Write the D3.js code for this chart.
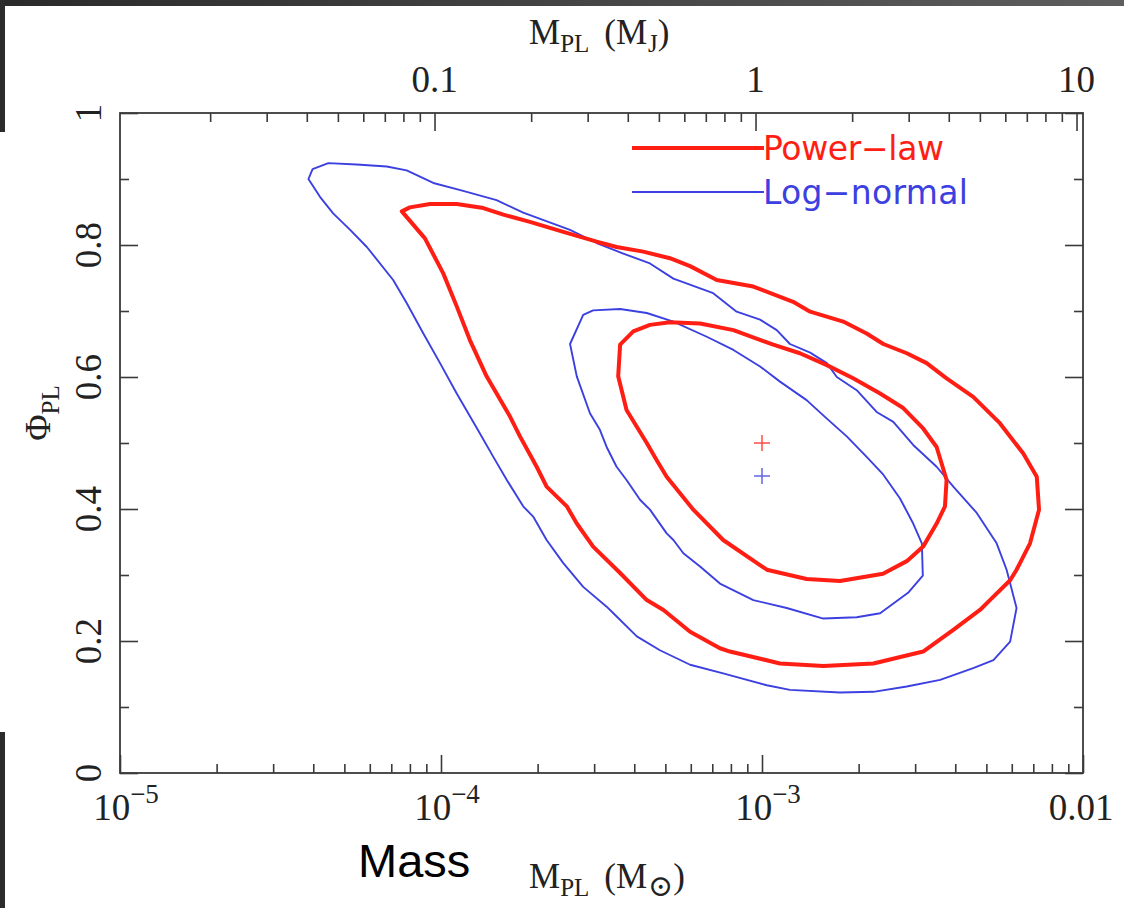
<!DOCTYPE html>
<html>
<head>
<meta charset="utf-8">
<script src="https://cdn.jsdelivr.net/npm/d3@7"></script>
<style>
  html, body { margin: 0; padding: 0; background: #fff; }
  svg { display: block; }
</style>
</head>
<body>
<svg id="chart" width="1124" height="908"></svg>
<script>
// ---- Data: [log10(M_PL / M_sun), Phi_PL] ----
const powerLawInner = [
  [-3.442,0.649],[-3.401,0.669],[-3.349,0.679],[-3.287,0.683],[-3.193,0.681],[-3.089,0.671],
  [-2.965,0.649],[-2.882,0.636],[-2.798,0.618],[-2.716,0.598],[-2.632,0.575],[-2.560,0.553],
  [-2.498,0.522],[-2.456,0.494],[-2.425,0.444],[-2.430,0.404],[-2.456,0.378],[-2.498,0.343],
  [-2.549,0.321],[-2.623,0.302],[-2.757,0.291],[-2.861,0.294],[-2.985,0.308],[-3.121,0.353],
  [-3.214,0.399],[-3.297,0.449],[-3.328,0.474],[-3.359,0.500],[-3.422,0.550],[-3.448,0.601]
];
const powerLawOuter = [
  [-4.122,0.851],[-4.097,0.857],[-4.034,0.862],[-3.951,0.862],[-3.868,0.856],[-3.806,0.846],
  [-3.723,0.835],[-3.619,0.820],[-3.515,0.805],[-3.453,0.797],[-3.370,0.790],[-3.287,0.780],
  [-3.224,0.768],[-3.141,0.747],[-3.027,0.737],[-2.903,0.714],[-2.850,0.699],[-2.747,0.684],
  [-2.674,0.666],[-2.622,0.650],[-2.549,0.636],[-2.487,0.621],[-2.425,0.598],[-2.342,0.570],
  [-2.259,0.530],[-2.186,0.484],[-2.144,0.449],[-2.137,0.399],[-2.165,0.348],[-2.207,0.308],
  [-2.227,0.292],[-2.290,0.262],[-2.321,0.247],[-2.404,0.217],[-2.498,0.184],[-2.653,0.166],
  [-2.809,0.162],[-2.944,0.166],[-3.100,0.184],[-3.131,0.189],[-3.224,0.214],[-3.307,0.247],
  [-3.359,0.262],[-3.442,0.303],[-3.526,0.343],[-3.577,0.378],[-3.608,0.404],[-3.671,0.434],
  [-3.702,0.464],[-3.754,0.510],[-3.785,0.540],[-3.858,0.601],[-3.910,0.656],[-3.951,0.707],
  [-3.993,0.757],[-4.050,0.810]
];
const logNormalInner = [
  [-3.598,0.650],[-3.557,0.694],[-3.526,0.701],[-3.442,0.703],[-3.359,0.697],[-3.276,0.684],
  [-3.172,0.661],[-3.089,0.641],[-3.006,0.616],[-2.944,0.593],[-2.861,0.565],[-2.798,0.537],
  [-2.736,0.510],[-2.674,0.479],[-2.622,0.452],[-2.570,0.416],[-2.529,0.378],[-2.502,0.348],
  [-2.499,0.299],[-2.545,0.273],[-2.632,0.242],[-2.705,0.236],[-2.809,0.234],[-2.923,0.250],
  [-3.027,0.262],[-3.131,0.287],[-3.193,0.313],[-3.245,0.333],[-3.276,0.353],[-3.297,0.363],
  [-3.349,0.399],[-3.380,0.414],[-3.422,0.444],[-3.453,0.464],[-3.484,0.494],[-3.505,0.520],
  [-3.536,0.545],[-3.577,0.601]
];
const logNormalOuter = [
  [-4.413,0.900],[-4.400,0.915],[-4.351,0.924],[-4.263,0.922],[-4.169,0.919],[-4.107,0.913],
  [-4.024,0.894],[-3.931,0.882],[-3.827,0.868],[-3.744,0.849],[-3.598,0.823],[-3.515,0.803],
  [-3.432,0.787],[-3.349,0.772],[-3.276,0.749],[-3.152,0.727],[-3.079,0.699],[-3.006,0.687],
  [-2.954,0.671],[-2.913,0.650],[-2.850,0.637],[-2.798,0.621],[-2.767,0.600],[-2.705,0.580],
  [-2.643,0.547],[-2.591,0.532],[-2.529,0.497],[-2.456,0.464],[-2.404,0.434],[-2.331,0.394],
  [-2.269,0.348],[-2.238,0.308],[-2.207,0.250],[-2.227,0.199],[-2.279,0.171],[-2.342,0.159],
  [-2.445,0.141],[-2.549,0.131],[-2.653,0.123],[-2.757,0.122],[-2.913,0.126],[-2.985,0.133],
  [-3.121,0.151],[-3.224,0.164],[-3.318,0.186],[-3.390,0.207],[-3.463,0.242],[-3.484,0.252],
  [-3.557,0.282],[-3.619,0.318],[-3.671,0.353],[-3.712,0.388],[-3.744,0.404],[-3.795,0.444],
  [-3.837,0.479],[-3.889,0.523],[-3.951,0.575],[-4.003,0.621],[-4.055,0.666],[-4.107,0.712],
  [-4.149,0.747],[-4.231,0.797],[-4.283,0.823],[-4.336,0.848],[-4.377,0.873]
];
// best-fit markers [M_PL (M_sun), Phi_PL]
const bestFitPowerLaw = [1e-3, 0.50];
const bestFitLogNormal = [1e-3, 0.45];

// axes
const xDomain = [1e-5, 1e-2];
const yDomain = [0, 1];
const MJ_IN_MSUN = 9.546e-4;
const bottomMajor = [1e-5, 1e-4, 1e-3, 1e-2];
const bottomLabels = [["10","−5"],["10","−4"],["10","−3"],["0.01",""]];
const topMajor = [0.1, 1, 10];
const topLabels = ["0.1", "1", "10"];
const yMajor = [0, 0.2, 0.4, 0.6, 0.8, 1];
const yLabels = ["0", "0.2", "0.4", "0.6", "0.8", "1"];
const yMinor = [0.1, 0.3, 0.5, 0.7, 0.9];
const legendNames = ["Power−law", "Log−normal"];

const RED = "#ff1e14";
const BLUE = "#3c40e0";

// ---- Drawing ----
const svg = d3.select("#chart");
const margin = {left: 120, right: 1083, top: 113, bottom: 773};

// slide background decorations
const defs = svg.append("defs");
const grad = defs.append("linearGradient").attr("id", "topbar");
grad.append("stop").attr("offset", "0").attr("stop-color", "#2a2a2a");
grad.append("stop").attr("offset", "1").attr("stop-color", "#5e5e5e");
svg.append("rect").attr("x", 0).attr("y", 0).attr("width", 1124).attr("height", 6).attr("fill", "url(#topbar)");
svg.append("rect").attr("x", 0).attr("y", 0).attr("width", 5).attr("height", 132).attr("fill", "#2c2c2c");
svg.append("rect").attr("x", 0).attr("y", 732).attr("width", 5).attr("height", 176).attr("fill", "#2c2c2c");

const x = d3.scaleLog().domain(xDomain).range([margin.left, margin.right]);
const xTop = d3.scaleLog().domain([xDomain[0] / MJ_IN_MSUN, xDomain[1] / MJ_IN_MSUN]).range([margin.left, margin.right]);
const y = d3.scaleLinear().domain(yDomain).range([margin.bottom, margin.top]);

function minorLog(lo, hi) {
  const out = [];
  for (let e = Math.floor(Math.log10(lo)); e <= Math.ceil(Math.log10(hi)); e++) {
    for (let m = 2; m <= 9; m++) {
      const v = m * Math.pow(10, e);
      if (v > lo && v < hi) out.push(v);
    }
  }
  return out;
}

const axisColor = "#3a3a3a";
const MAJ = 18, MIN = 9;
function styleAxis(g) {
  g.select(".domain").remove();
  g.selectAll("line").attr("stroke", axisColor).attr("stroke-width", 1.6);
  g.selectAll("text").remove();
}
// bottom
svg.append("g").attr("transform", `translate(0,${margin.bottom})`)
  .call(d3.axisBottom(x).tickValues(bottomMajor).tickSize(-MAJ).tickFormat("")).call(styleAxis);
svg.append("g").attr("transform", `translate(0,${margin.bottom})`)
  .call(d3.axisBottom(x).tickValues(minorLog(xDomain[0], xDomain[1])).tickSize(-MIN).tickFormat("")).call(styleAxis);
// top
const td = xTop.domain();
svg.append("g").attr("transform", `translate(0,${margin.top})`)
  .call(d3.axisTop(xTop).tickValues(topMajor).tickSize(-MAJ).tickFormat("")).call(styleAxis);
svg.append("g").attr("transform", `translate(0,${margin.top})`)
  .call(d3.axisTop(xTop).tickValues(minorLog(td[0], td[1])).tickSize(-MIN).tickFormat("")).call(styleAxis);
// left / right
svg.append("g").attr("transform", `translate(${margin.left},0)`)
  .call(d3.axisLeft(y).tickValues(yMajor).tickSize(-MAJ).tickFormat("")).call(styleAxis);
svg.append("g").attr("transform", `translate(${margin.left},0)`)
  .call(d3.axisLeft(y).tickValues(yMinor).tickSize(-MIN).tickFormat("")).call(styleAxis);
svg.append("g").attr("transform", `translate(${margin.right},0)`)
  .call(d3.axisRight(y).tickValues(yMajor).tickSize(-MAJ).tickFormat("")).call(styleAxis);
svg.append("g").attr("transform", `translate(${margin.right},0)`)
  .call(d3.axisRight(y).tickValues(yMinor).tickSize(-MIN).tickFormat("")).call(styleAxis);

// frame
svg.append("rect")
  .attr("x", margin.left).attr("y", margin.top)
  .attr("width", margin.right - margin.left).attr("height", margin.bottom - margin.top)
  .attr("fill", "none").attr("stroke", axisColor).attr("stroke-width", 1.8);

const serif = "'Liberation Serif', 'DejaVu Serif', serif";
const tickFont = 37;

// bottom tick labels
bottomMajor.forEach((v, i) => {
  const [base, exp] = bottomLabels[i];
  const t = svg.append("text")
    .attr("x", x(v) + (exp ? 6 : -2)).attr("y", 820)
    .attr("text-anchor", "middle")
    .attr("font-family", serif).attr("font-size", tickFont).attr("fill", "#222");
  t.append("tspan").text(base);
  if (exp) t.append("tspan").attr("dy", -17).attr("font-size", 27).text(exp);
});
// top tick labels
topMajor.forEach((v, i) => {
  svg.append("text")
    .attr("x", xTop(v)).attr("y", 92)
    .attr("text-anchor", "middle")
    .attr("font-family", serif).attr("font-size", tickFont).attr("fill", "#222")
    .text(topLabels[i]);
});
// left tick labels (rotated)
yMajor.forEach((v, i) => {
  svg.append("text")
    .attr("transform", `translate(101,${y(v)}) rotate(-90)`)
    .attr("text-anchor", "middle")
    .attr("font-family", serif).attr("font-size", tickFont).attr("fill", "#222")
    .text(yLabels[i]);
});

// axis titles
function massTitle(xPos, yPos, unitSub, subSize) {
  const t = svg.append("text").attr("x", xPos).attr("y", yPos)
    .attr("font-family", serif).attr("font-size", 35).attr("fill", "#222");
  t.append("tspan").text("M");
  t.append("tspan").attr("dy", 8).attr("font-size", 25).text("PL");
  t.append("tspan").attr("dy", -8).attr("dx", 15).text("(M");
  t.append("tspan").attr("dy", 8).attr("dx", 1).attr("font-size", subSize).text(unitSub);
  t.append("tspan").attr("dy", -8).text(")");
}
massTitle(529, 44, "J", 25);
massTitle(529, 888, "⊙", 30);

const yt = svg.append("text")
  .attr("transform", `translate(50,413) rotate(-90)`)
  .attr("text-anchor", "middle")
  .attr("font-family", serif).attr("font-size", 36).attr("fill", "#222");
yt.append("tspan").text("Φ");
yt.append("tspan").attr("dy", 9).attr("font-size", 25).text("PL");

svg.append("text").attr("x", 358).attr("y", 877)
  .attr("font-family", "'Liberation Sans', Arial, sans-serif").attr("font-size", 47).attr("fill", "#000")
  .text("Mass");

// contours
const line = d3.line()
  .x(d => x(Math.pow(10, d[0])))
  .y(d => y(d[1]))
  .curve(d3.curveLinearClosed);

const contours = [
  {data: logNormalOuter, color: BLUE, w: 1.9},
  {data: logNormalInner, color: BLUE, w: 1.9},
  {data: powerLawOuter, color: RED, w: 4},
  {data: powerLawInner, color: RED, w: 4}
];
svg.append("g").selectAll("path").data(contours).join("path")
  .attr("d", d => line(d.data))
  .attr("fill", "none")
  .attr("stroke", d => d.color)
  .attr("stroke-width", d => d.w)
  .attr("stroke-linejoin", "round");

// best-fit crosses
[[bestFitPowerLaw, RED], [bestFitLogNormal, BLUE]].forEach(([p, c]) => {
  const cx = x(p[0]), cy = y(p[1]);
  svg.append("path")
    .attr("d", `M${cx - 8},${cy}h16M${cx},${cy - 8}v16`)
    .attr("stroke", c).attr("stroke-width", 1.5).attr("fill", "none").attr("opacity", 0.8);
});

// legend
const legendItems = [
  {name: legendNames[0], color: RED, w: 4, y: 148, len: 181},
  {name: legendNames[1], color: BLUE, w: 1.9, y: 192, len: 205}
];
legendItems.forEach(it => {
  svg.append("line").attr("x1", 632).attr("x2", 764).attr("y1", it.y).attr("y2", it.y)
    .attr("stroke", it.color).attr("stroke-width", it.w);
  svg.append("text").attr("x", 763).attr("y", it.y + 12)
    .attr("font-family", "'DejaVu Sans', sans-serif").attr("font-size", 33)
    .attr("fill", it.color)
    .attr("textLength", it.len).attr("lengthAdjust", "spacing")
    .text(it.name);
});
</script>
</body>
</html>
